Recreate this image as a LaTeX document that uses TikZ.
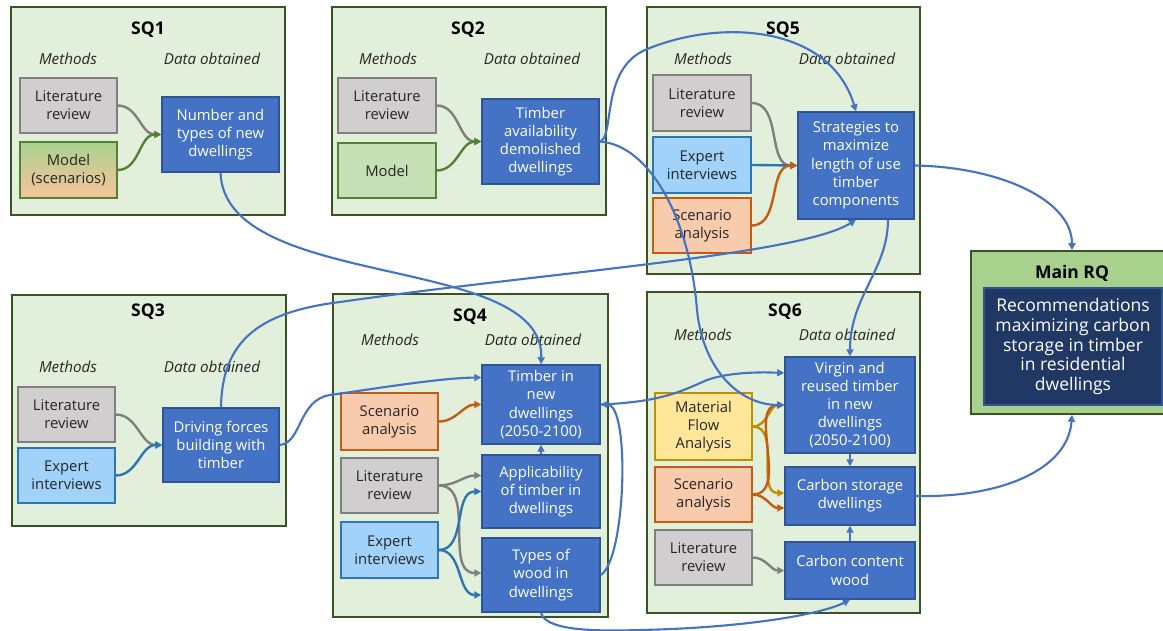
\documentclass[tikz,border=0pt]{standalone}
\usepackage{fontspec}
\setmainfont{Open Sans}
\usetikzlibrary{arrows.meta}

\definecolor{panelfill}{HTML}{E2EFDA}
\definecolor{panelborder}{HTML}{3B5323}
\definecolor{mainfill}{HTML}{A9D18E}
\definecolor{litfill}{HTML}{D0CECE}
\definecolor{litborder}{HTML}{7F7F7F}
\definecolor{modelfill}{HTML}{C5E0B4}
\definecolor{modelborder}{HTML}{548235}
\definecolor{expfill}{HTML}{A0D2FA}
\definecolor{expborder}{HTML}{2E75B6}
\definecolor{scenfill}{HTML}{F8CBAD}
\definecolor{scenborder}{HTML}{C55A11}
\definecolor{mfafill}{HTML}{FFE699}
\definecolor{mfaborder}{HTML}{BF9000}
\definecolor{datafill}{HTML}{4472C4}
\definecolor{databorder}{HTML}{2F5597}
\definecolor{navyfill}{HTML}{203864}
\definecolor{linkblue}{HTML}{4472C4}
\definecolor{txt}{HTML}{262626}

\tikzset{
  panel/.style={draw=panelborder, fill=panelfill, line width=1.6pt, inner sep=0pt},
  box/.style={line width=1.4pt, inner sep=0pt, align=center,
    font=\fontsize{14.8}{18.2}\selectfont, text=txt},
  litbox/.style={box, draw=litborder, fill=litfill},
  modelbox/.style={box, draw=modelborder, fill=modelfill},
  expbox/.style={box, draw=expborder, fill=expfill},
  scenbox/.style={box, draw=scenborder, fill=scenfill},
  mfabox/.style={box, draw=mfaborder, fill=mfafill},
  databox/.style={box, draw=databorder, fill=datafill, text=white},
  sqtitle/.style={font=\bfseries\fontsize{17.5}{20}\selectfont, text=black},
  colhead/.style={font=\itshape\fontsize{15.2}{17}\selectfont, text=txt},
  link/.style={-{Triangle[length=7pt,width=7pt]}, line width=2.1pt, draw=linkblue},
  feed/.style={-{Triangle[length=7pt,width=7pt]}, line width=2.4pt},
  feedgray/.style={feed, draw=litborder},
  feedgreen/.style={feed, draw=modelborder},
  feedblue/.style={feed, draw=expborder},
  feedorange/.style={feed, draw=scenborder},
  feedyellow/.style={feed, draw=mfaborder},
}

\begin{document}
\begin{tikzpicture}[x=1pt,y=-1pt]
\useasboundingbox[fill=white] (0,0) rectangle (1163,631);

% ---------- panels ----------
\node[panel, minimum width=274pt, minimum height=208pt] (p1) at (148,111) {};
\node[panel, minimum width=274pt, minimum height=208pt] (p2) at (469,111) {};
\node[panel, minimum width=273pt, minimum height=267pt] (p5) at (783.5,140.5) {};
\node[panel, minimum width=274pt, minimum height=231pt] (p3) at (149,410.5) {};
\node[panel, minimum width=275pt, minimum height=323pt] (p4) at (470.5,455.5) {};
\node[panel, minimum width=273pt, minimum height=321pt] (p6) at (783.5,452.5) {};
\node[panel, fill=mainfill, minimum width=198pt, minimum height=163pt] (pm) at (1070,332.5) {};

% ---------- SQ1 ----------
\node[sqtitle] (t1) at (148,30) {SQ1};
\node[colhead] (m1) at (68,59) {Methods};
\node[colhead] (d1) at (212,59) {Data obtained};
\node[litbox, minimum width=97pt, minimum height=55pt] (lr1) at (68.5,105.5) {Literature\\review};
\node[box, draw=modelborder, top color=mainfill, bottom color=scenfill!90!orange,
      minimum width=97pt, minimum height=56pt] (mo1) at (68.5,170) {Model\\(scenarios)};
\node[databox, minimum width=117pt, minimum height=75pt] (nt1) at (220.5,134.5) {Number and\\types of new\\dwellings};

% ---------- SQ2 ----------
\node[sqtitle] (t2) at (468,30) {SQ2};
\node[colhead] (m2) at (388,59) {Methods};
\node[colhead] (d2) at (532,59) {Data obtained};
\node[litbox, minimum width=98pt, minimum height=55pt] (lr2) at (387,105.5) {Literature\\review};
\node[modelbox, minimum width=98pt, minimum height=55pt] (mo2) at (387,170.5) {Model};
\node[databox, minimum width=117pt, minimum height=85pt] (ta2) at (540.5,141.5) {Timber\\availability\\demolished\\dwellings};

% ---------- SQ5 ----------
\node[sqtitle] (t5) at (783,30) {SQ5};
\node[colhead] (m5) at (703,59) {Methods};
\node[colhead] (d5) at (847,59) {Data obtained};
\node[litbox, minimum width=98pt, minimum height=56pt] (lr5) at (702,103) {Literature\\review};
\node[expbox, minimum width=98pt, minimum height=56pt] (ex5) at (702,165) {Expert\\interviews};
\node[scenbox, minimum width=98pt, minimum height=55pt] (sc5) at (702,225.5) {Scenario\\analysis};
\node[databox, minimum width=116pt, minimum height=107pt] (st5) at (856,165.5) {Strategies to\\maximize\\length of use\\timber\\components};

% ---------- SQ3 ----------
\node[sqtitle] (t3) at (148,312) {SQ3};
\node[colhead] (m3) at (68,367) {Methods};
\node[colhead] (d3) at (212,367) {Data obtained};
\node[litbox, minimum width=97pt, minimum height=55pt] (lr3) at (66.5,414.5) {Literature\\review};
\node[expbox, minimum width=97pt, minimum height=55pt] (ex3) at (66.5,475.5) {Expert\\interviews};
\node[databox, minimum width=116pt, minimum height=74pt] (df3) at (221,445) {Driving forces\\building with\\timber};

% ---------- SQ4 ----------
\node[sqtitle] (t4) at (470,317) {SQ4};
\node[colhead] (m4) at (390,340) {Methods};
\node[colhead] (d4) at (533,340) {Data obtained};
\node[scenbox, minimum width=97pt, minimum height=57pt] (sc4) at (389.5,421.5) {Scenario\\analysis};
\node[litbox, minimum width=97pt, minimum height=55pt] (lr4) at (389.5,485.5) {Literature\\review};
\node[expbox, minimum width=97pt, minimum height=56pt] (ex4) at (389.5,550) {Expert\\interviews};
\node[databox, minimum width=118pt, minimum height=79pt] (tn4) at (541,404.5) {Timber in\\new\\dwellings\\(2050-2100)};
\node[databox, minimum width=118pt, minimum height=73pt] (ap4) at (541,491.5) {Applicability\\of timber in\\dwellings};
\node[databox, minimum width=118pt, minimum height=74pt] (tw4) at (541,575) {Types of\\wood in\\dwellings};

% ---------- SQ6 ----------
\node[sqtitle] (t6) at (785,312) {SQ6};
\node[colhead] (m6) at (703,335) {Methods};
\node[colhead] (d6) at (847,335) {Data obtained};
\node[mfabox, minimum width=97pt, minimum height=67pt] (mf6) at (703.5,426.5) {Material\\Flow\\Analysis};
\node[scenbox, minimum width=97pt, minimum height=55pt] (sc6) at (703.5,494.5) {Scenario\\analysis};
\node[litbox, minimum width=97pt, minimum height=55pt] (lr6) at (703.5,557.5) {Literature\\review};
\node[databox, minimum width=130pt, minimum height=96pt] (vr6) at (850,405) {Virgin and\\reused timber\\in new\\dwellings\\(2050-2100)};
\node[databox, minimum width=130pt, minimum height=58pt] (cs6) at (850,496) {Carbon storage\\dwellings};
\node[databox, minimum width=130pt, minimum height=57pt] (cc6) at (850,570.5) {Carbon content\\wood};

% ---------- Main RQ ----------
\node[sqtitle] (tm) at (1072,273) {Main RQ};
\node[box, draw=databorder, fill=navyfill, text=white, font=\fontsize{17.5}{19.7}\selectfont,
      minimum width=178pt, minimum height=117pt] (im) at (1073,346.5)
      {Recommendations\\maximizing carbon\\storage in timber\\in residential\\dwellings};

% ---------- method -> data arrows ----------
\draw[feedgray]  (lr1.east) to[out=0,in=180] (nt1.west);
\draw[feedgreen] (mo1.east) to[out=0,in=180] (nt1.west);
\draw[feedgray]  (lr2.east) to[out=0,in=180] (ta2.west);
\draw[feedgreen] (mo2.east) to[out=0,in=180] (ta2.west);
\draw[feedgray]  (lr5.east) to[out=0,in=180] (st5.west);
\draw[feedblue]  (ex5.east) -- (st5.west);
\draw[feedorange](sc5.east) to[out=0,in=180] (st5.west);
\draw[feedgray]  (lr3.east) to[out=0,in=180] (df3.west);
\draw[feedblue]  (ex3.east) to[out=0,in=180] (df3.west);
\draw[feedorange](sc4.east) to[out=0,in=180] (tn4.west);
\draw[feedgray]  (lr4.east) to[out=0,in=180] ([yshift=16pt]ap4.west);
\draw[feedgray]  (lr4.east) to[out=0,in=180] ([yshift=2pt]tw4.west);
\draw[feedblue]  (ex4.east) to[out=0,in=180] (ap4.west);
\draw[feedblue]  (ex4.east) to[out=0,in=180] ([yshift=-20pt]tw4.west);
\draw[feedyellow](mf6.east) to[out=0,in=180] (vr6.west);
\draw[feedyellow](mf6.east) to[out=0,in=180] ([yshift=3pt]cs6.west);
\draw[feedorange](sc6.east) to[out=0,in=180] (vr6.west);
\draw[feedorange](sc6.east) to[out=0,in=180] ([yshift=-12pt]cs6.west);
\draw[feedgray]  (lr6.east) to[out=0,in=180] (cc6.west);

% ---------- links between data ----------
\draw[link] (ap4.north) -- (tn4.south);
\draw[link] (vr6.south) -- (cs6.north);
\draw[link] (cc6.north) -- (cs6.south);
\draw[link] (tw4.east) .. controls +(25,-15) and +(30,0) .. (tn4.east);

\draw[link] (nt1.south) .. controls (225,292) and (545,252) .. (tn4.north);
\draw[link] (ta2.east) .. controls (615,138) and (600,70) .. (645,50)
                       .. controls (720,18) and (830,25) .. (st5.north);
\draw[link] (ta2.east) .. controls (650,145) and (690,220) .. (697,310)
                       .. controls (703,370) and (740,405) .. (vr6.west);
\draw[link] (df3.north) .. controls (222,340) and (260,312) .. (340,302)
                        .. controls (550,272) and (800,255) .. (st5.south);
\draw[link] (df3.east) .. controls (302,443) and (298,400) .. (330,395)
                       .. controls (380,388) and (440,378) .. ([yshift=27pt]tn4.west);
\draw[link] (tn4.east) .. controls (660,402) and (680,392) .. (707,380)
                       .. controls (730,372) and (760,372) .. ([yshift=32pt]vr6.west);
\draw[link] (tw4.south) .. controls (545,628) and (580,632) .. (640,630)
                        .. controls (740,628) and (820,615) .. (cc6.south);
\draw[link] ([xshift=32pt]st5.south) .. controls +(0,50) and +(0,-60) .. (vr6.north);
\draw[link] (st5.east) .. controls (1000,167) and (1072,200) .. ([xshift=2pt]pm.north);
\draw[link] (cs6.east) .. controls (1000,498) and (1068,470) .. ([xshift=2pt]pm.south);
\end{tikzpicture}
\end{document}
